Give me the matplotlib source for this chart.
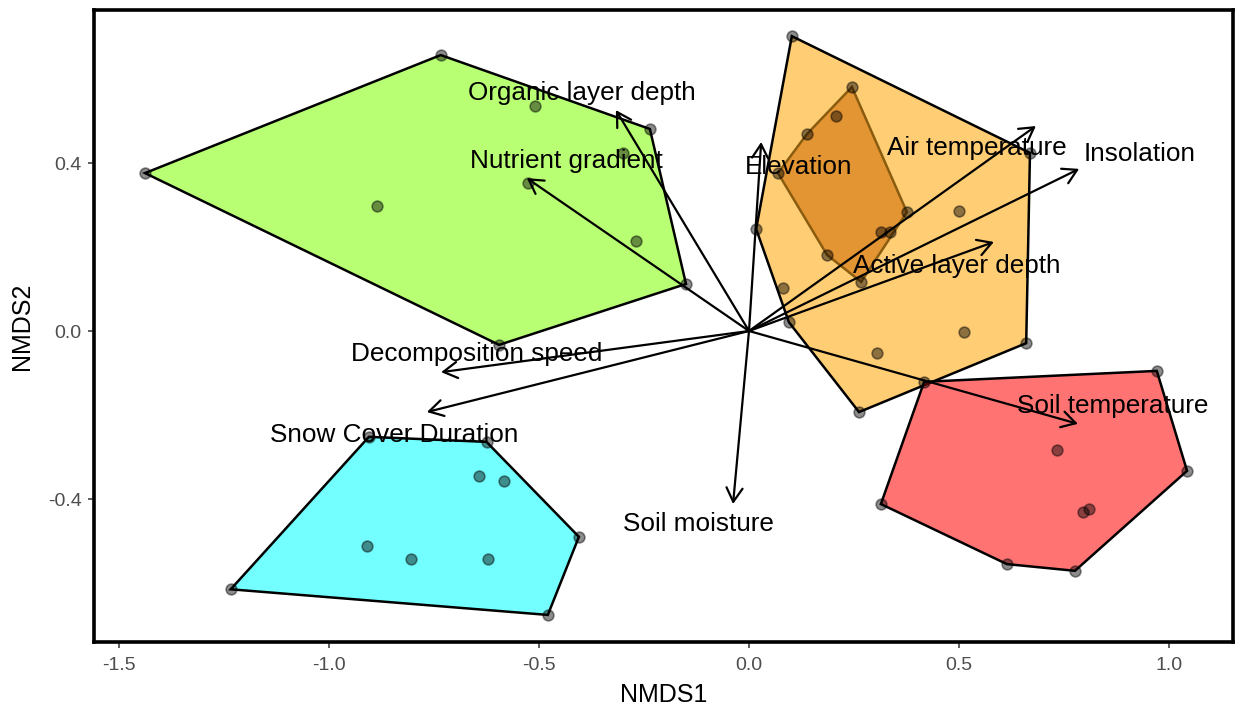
import numpy as np
import matplotlib
matplotlib.use("Agg")
import matplotlib.pyplot as plt
from matplotlib.patches import Polygon
from matplotlib.colors import to_rgba

plt.rcParams['font.family'] = ['Liberation Sans', 'DejaVu Sans']

# site scores (NMDS1, NMDS2) per group
green_x = [-1.438, -0.734, -0.236, -0.150, -0.595, -0.510, -0.299, -0.526, -0.269, -0.886]
green_y = [0.376, 0.657, 0.481, 0.112, -0.033, 0.536, 0.424, 0.352, 0.214, 0.298]

cyan_x = [-1.234, -0.905, -0.625, -0.405, -0.479, -0.643, -0.583, -0.910, -0.805, -0.621]
cyan_y = [-0.615, -0.252, -0.264, -0.490, -0.676, -0.345, -0.357, -0.512, -0.543, -0.542]

orange_x = [0.102, 0.669, 0.660, 0.262, 0.095, 0.017, 0.081, 0.305, 0.512, 0.500]
orange_y = [0.702, 0.424, -0.029, -0.193, 0.021, 0.243, 0.102, -0.052, -0.002, 0.286]

dkorange_x = [0.245, 0.376, 0.336, 0.314, 0.267, 0.186, 0.069, 0.138, 0.207]
dkorange_y = [0.581, 0.283, 0.236, 0.236, 0.117, 0.181, 0.376, 0.469, 0.512]

red_x = [0.417, 0.971, 1.043, 0.776, 0.614, 0.314, 0.733, 0.795, 0.810]
red_y = [-0.121, -0.095, -0.333, -0.571, -0.555, -0.412, -0.283, -0.431, -0.424]

# environmental vectors
env_names = ['Organic layer depth', 'Nutrient gradient', 'Elevation', 'Air temperature',
             'Insolation', 'Active layer depth', 'Soil temperature', 'Soil moisture',
             'Snow Cover Duration', 'Decomposition speed']
env_x = [-0.317, -0.529, 0.029, 0.683, 0.786, 0.583, 0.783, -0.038, -0.767, -0.733]
env_y = [0.526, 0.364, 0.450, 0.488, 0.386, 0.212, -0.221, -0.412, -0.193, -0.098]
lab_x = [-0.399, -0.436, 0.117, 0.542, 0.931, 0.495, 0.865, -0.121, -0.845, -0.648]
lab_y = [0.566, 0.405, 0.390, 0.435, 0.421, 0.155, -0.179, -0.460, -0.248, -0.055]


def chull(x, y):
    # monotone chain convex hull
    pts = sorted(zip(x, y))

    def cross(o, a, b):
        return (a[0] - o[0]) * (b[1] - o[1]) - (a[1] - o[1]) * (b[0] - o[0])

    lower, upper = [], []
    for p in pts:
        while len(lower) >= 2 and cross(lower[-2], lower[-1], p) <= 0:
            lower.pop()
        lower.append(p)
    for p in reversed(pts):
        while len(upper) >= 2 and cross(upper[-2], upper[-1], p) <= 0:
            upper.pop()
        upper.append(p)
    return np.array(lower[:-1] + upper[:-1])


W, H = 1238, 705
fig = plt.figure(figsize=(W / 100, H / 100), dpi=100)
left, right, top, bottom = 94, 1233, 10, 642
ax = fig.add_axes([left / W, (H - bottom) / H, (right - left) / W, (bottom - top) / H])

x0, y0, ppu = 749, 331, 420.0
ax.set_xlim((left - x0) / ppu, (right - x0) / ppu)
ax.set_ylim((y0 - bottom) / ppu, (y0 - top) / ppu)

groups = [
    (green_x, green_y, '#7FFF00', 'black'),
    (cyan_x, cyan_y, '#00FFFF', 'black'),
    (orange_x, orange_y, '#FFA500', 'black'),
    (dkorange_x, dkorange_y, '#CD6600', '#8a5c10'),
    (red_x, red_y, '#FF0000', 'black'),
]

# hulls first, then the sites on top
for gx, gy, fill, edge in groups:
    hull = chull(gx, gy)
    ax.add_patch(Polygon(hull, closed=True, facecolor=to_rgba(fill, 0.55),
                         edgecolor=edge, lw=1.8, zorder=1))

for gx, gy, fill, edge in groups:
    ax.scatter(gx, gy, s=60, color='black', alpha=0.45, linewidths=1.2, zorder=2)

for ex, ey in zip(env_x, env_y):
    ax.annotate('', xy=(ex, ey), xytext=(0, 0),
                arrowprops=dict(arrowstyle='->,head_length=0.5,head_width=0.29',
                                mutation_scale=20, lw=1.6, color='black',
                                shrinkA=0, shrinkB=0),
                zorder=3)

for name, lx, ly in zip(env_names, lab_x, lab_y):
    ax.text(lx, ly, name, fontsize=18.8, ha='center', va='center', color='black', zorder=4)

ax.set_xticks([-1.5, -1.0, -0.5, 0.0, 0.5, 1.0])
ax.set_yticks([-0.4, 0.0, 0.4])
ax.set_xticklabels(['-1.5', '-1.0', '-0.5', '0.0', '0.5', '1.0'])
ax.set_yticklabels(['-0.4', '0.0', '0.4'])
ax.tick_params(axis='both', direction='out', length=4, width=1.1, color='#333333',
               labelcolor='#4D4D4D', labelsize=14, pad=5)
ax.tick_params(axis='x', pad=7)

for sp in ax.spines.values():
    sp.set_linewidth(2.6)
    sp.set_color('black')

ax.set_xlabel('NMDS1', fontsize=18, labelpad=6)
ax.set_ylabel('NMDS2', fontsize=18, labelpad=10)

fig.savefig('out.png', dpi=100)
